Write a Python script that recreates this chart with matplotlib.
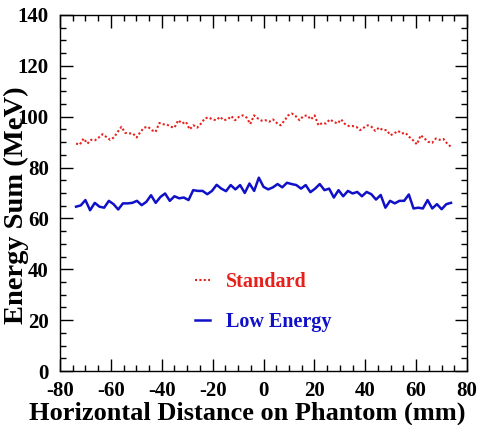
import numpy as np
import matplotlib.pyplot as plt
from matplotlib.ticker import MultipleLocator

# values (MeV), evenly spaced across the phantom
standard_sum = [
    89.4, 89.0, 91.4, 89.4, 90.9, 90.7, 91.8, 93.1, 92.0, 90.9,
    91.8, 94.0, 96.0, 93.6, 93.4, 93.4, 91.8, 94.0, 95.7, 96.0,
    94.7, 94.0, 97.5, 97.0, 96.9, 96.0, 95.7,
    98.6, 97.3, 98.0, 95.0, 96.6, 95.7, 97.3, 99.3, 99.7, 98.9,
    98.6, 99.9, 98.6, 98.9, 100.2, 98.6, 99.9, 100.5, 99.7, 97.1,
    100.5, 99.3, 98.4, 98.6, 98.0, 98.9,
    97.5, 96.6, 98.4, 100.5, 101.2, 100.2, 98.6, 100.2, 100.5, 98.9,
    100.5, 96.6, 97.5, 97.3, 98.9, 98.0, 97.3, 98.9, 97.1, 96.3,
    96.3, 96.0, 94.7, 95.7, 96.6, 96.0, 94.4,
    95.7, 94.7, 94.7, 92.7, 93.4, 94.4, 93.4, 93.6, 92.0, 90.7,
    89.1, 92.7, 91.4, 90.1, 89.7, 91.4, 90.9, 91.2, 89.4, 88.1,
]
low_energy_sum = [
    64.6, 65.1, 67.2, 63.2, 66.1, 64.6, 64.2, 66.9, 65.6, 63.5,
    65.9, 65.9, 66.1, 66.9, 65.2, 66.5, 69.1, 66.1, 68.4, 69.8,
    66.9, 68.7, 67.9, 68.2,
    67.2, 71.1, 70.8, 70.8, 69.5, 70.8, 73.2, 71.7, 70.7, 73.1,
    71.4, 73.1, 70.0, 73.7, 70.8, 76.0, 72.4, 71.4, 72.2, 73.5,
    72.2, 74.0,
    73.5, 73.1, 71.7, 73.1, 70.3, 71.7, 73.5, 71.1, 71.7, 68.2,
    71.1, 68.7, 70.8, 69.8, 70.4, 68.7, 70.4, 69.5,
    67.4, 69.2, 64.2, 66.9, 65.9, 66.9, 66.9, 69.4, 63.9, 64.2,
    63.9, 67.2, 63.9, 65.6, 63.6, 65.6, 66.1,
]
x_min, x_max = -73.7, 73.7

x_std = np.linspace(x_min, x_max, len(standard_sum))
x_low = np.linspace(x_min, x_max, len(low_energy_sum))

plt.rcParams['font.family'] = ['Liberation Serif', 'DejaVu Serif']
plt.rcParams['font.weight'] = 'bold'
plt.rcParams['axes.unicode_minus'] = False

fig = plt.figure(figsize=(4.8, 4.25), dpi=100)
ax = fig.add_axes([0.125, 0.127, 0.848, 0.838])

ax.plot(x_std, standard_sum, color='#e8201c', ls=(0, (1, 1.1)), lw=1.5, label='Standard')
ax.plot(x_low, low_energy_sum, color='#1010c8', ls='-', lw=1.8, label='Low Energy')

ax.set_xlim(-80, 80)
ax.set_ylim(0, 140)
ax.xaxis.set_major_locator(MultipleLocator(20))
ax.xaxis.set_minor_locator(MultipleLocator(5))
ax.yaxis.set_major_locator(MultipleLocator(20))
ax.yaxis.set_minor_locator(MultipleLocator(5))
ax.tick_params(which='both', direction='in', top=True, right=True, width=1, labelsize=15)
ax.tick_params(which='major', length=9)
ax.tick_params(which='minor', length=4.5)
ax.tick_params(axis='x', pad=7)
ax.tick_params(axis='y', pad=8)
for lab in ax.get_xticklabels() + ax.get_yticklabels():
    lab.set_fontweight('bold')
for sp in ax.spines.values():
    sp.set_linewidth(1)

# the reference labels sit off-centre and the y label runs over the tick labels
ax.set_xlabel('Horizontal Distance on Phantom (mm)', fontsize=19, fontweight='bold')
ax.xaxis.set_label_coords(0.459, -0.085)
ax.set_ylabel('Energy Sum (MeV)', fontsize=20.5, fontweight='bold')
ax.yaxis.set_label_coords(-0.075, 0.466)

ax.legend(loc='center left', bbox_to_anchor=(0.288, 0.193), frameon=False,
          handlelength=0.75, handletextpad=0.75, labelspacing=1.0,
          labelcolor='linecolor', prop={'weight': 'bold', 'size': 14.5})

fig.savefig('out.png', dpi=100)
